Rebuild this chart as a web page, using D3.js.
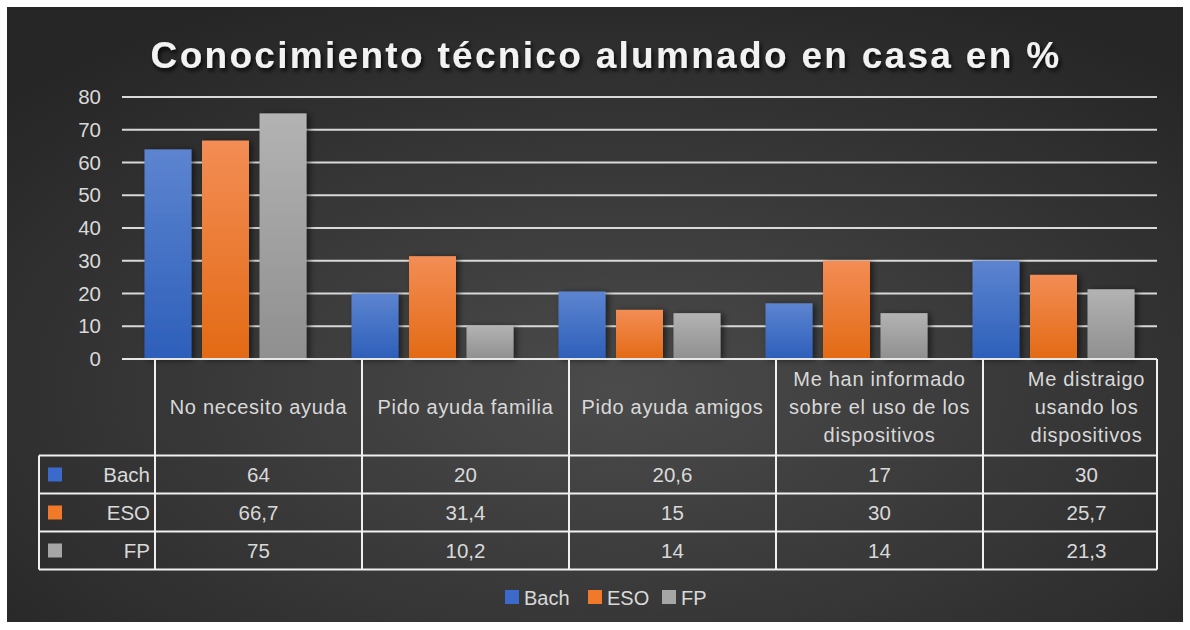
<!DOCTYPE html>
<html>
<head>
<meta charset="utf-8">
<script src="https://cdn.jsdelivr.net/npm/d3@7"></script>
<style>
  html, body { margin: 0; padding: 0; background: #ffffff; }
  svg { display: block; font-family: "Liberation Sans", Arial, sans-serif; }
</style>
</head>
<body>
<div id="chart"></div>
<script>
// chart data
const categories = [
  ['No necesito ayuda'],
  ['Pido ayuda familia'],
  ['Pido ayuda amigos'],
  ['Me han informado', 'sobre el uso de los', 'dispositivos'],
  ['Me distraigo', 'usando los', 'dispositivos']
]
const seriesNames = ['Bach', 'ESO', 'FP']
const bachValues = [64, 20, 20.6, 17, 30]
const esoValues = [66.7, 31.4, 15, 30, 25.7]
const fpValues = [75, 10.2, 14, 14, 21.3]
const yTicks = [0, 10, 20, 30, 40, 50, 60, 70, 80]

const seriesValues = [bachValues, esoValues, fpValues]
const seriesColors = [
  {top: '#5d84d0', bottom: '#2d5fba', key: '#3b6acb'},
  {top: '#f38d55', bottom: '#e36a15', key: '#f07a2a'},
  {top: '#b3b3b3', bottom: '#8f8f8f', key: '#a6a6a6'}
]
const fmt = v => String(v).replace('.', ',')

const width = 1190, height = 630
const svg = d3.select('#chart').append('svg')
  .attr('width', width)
  .attr('height', height)

const defs = svg.append('defs')

// # Background gradient.
const bg = defs.append('radialGradient')
  .attr('id', 'bg')
  .attr('cx', '52%').attr('cy', '62%').attr('r', '70%')
bg.append('stop').attr('offset', '0%').attr('stop-color', '#4b4b4b')
bg.append('stop').attr('offset', '100%').attr('stop-color', '#262626')

seriesColors.forEach((c, i) => {
  const g = defs.append('linearGradient')
    .attr('id', 'bar' + i)
    .attr('x1', 0).attr('y1', 0).attr('x2', 0).attr('y2', 1)
  g.append('stop').attr('offset', '0%').attr('stop-color', c.top)
  g.append('stop').attr('offset', '100%').attr('stop-color', c.bottom)
})

const shadow = defs.append('filter').attr('id', 'shadow')
  .attr('x', '-30%').attr('y', '-30%').attr('width', '160%').attr('height', '160%')
shadow.append('feDropShadow')
  .attr('dx', 3).attr('dy', 1).attr('stdDeviation', 3)
  .attr('flood-color', '#000').attr('flood-opacity', 0.55)

const titleShadow = defs.append('filter').attr('id', 'tshadow')
  .attr('x', '-10%').attr('y', '-30%').attr('width', '120%').attr('height', '160%')
titleShadow.append('feDropShadow')
  .attr('dx', 2).attr('dy', 3).attr('stdDeviation', 2)
  .attr('flood-color', '#000').attr('flood-opacity', 0.8)

svg.append('rect')
  .attr('x', 7).attr('y', 7)
  .attr('width', 1176).attr('height', 615)
  .attr('fill', 'url(#bg)')

// # Title
svg.append('text')
  .attr('x', 606).attr('y', 68)
  .attr('text-anchor', 'middle')
  .attr('font-size', 37)
  .attr('font-weight', 'bold')
  .attr('letter-spacing', 2.3)
  .attr('fill', '#f2f2f2')
  .attr('filter', 'url(#tshadow)')
  .text('Conocimiento técnico alumnado en casa en %')

// # Scales
const plotLeft = 122, plotRight = 1157
const y = d3.scaleLinear().domain([0, 80]).range([359, 97])
const x0 = d3.scaleBand().domain(d3.range(categories.length)).range([plotLeft, plotRight])
const x1 = d3.scaleBand().domain(d3.range(seriesNames.length))
  .range([22.5, x0.bandwidth() - 22.5]).paddingInner(0.183)

// # Gridlines
svg.append('g')
  .selectAll('line')
  .data(yTicks.filter(t => t > 0))
  .enter().append('line')
  .attr('x1', plotLeft).attr('x2', plotRight)
  .attr('y1', d => y(d)).attr('y2', d => y(d))
  .attr('stroke', '#d9d9d9')
  .attr('stroke-width', 2)

// # Y axis labels
const yAxis = d3.axisLeft(y).tickValues(yTicks).tickSize(0).tickPadding(0)
const yg = svg.append('g')
  .attr('transform', 'translate(101,0)')
  .call(yAxis)
yg.select('.domain').remove()
yg.selectAll('text')
  .attr('font-size', 20.5)
  .attr('font-family', '"Liberation Sans", Arial, sans-serif')
  .attr('fill', '#d9d9d9')

// # Bars
const groups = svg.append('g')
  .selectAll('g')
  .data(categories.map((c, i) => i))
  .enter().append('g')
  .attr('transform', i => 'translate(' + x0(i) + ',0)')

groups.selectAll('rect')
  .data(i => seriesValues.map((vals, s) => ({s: s, v: vals[i]})))
  .enter().append('rect')
  .attr('x', d => x1(d.s))
  .attr('width', x1.bandwidth())
  .attr('y', d => y(d.v))
  .attr('height', d => y(0) - y(d.v))
  .attr('fill', d => 'url(#bar' + d.s + ')')
  .attr('filter', 'url(#shadow)')

// # Axis line
svg.append('line')
  .attr('x1', plotLeft).attr('x2', plotRight)
  .attr('y1', y(0)).attr('y2', y(0))
  .attr('stroke', '#e6e6e6').attr('stroke-width', 2)

// # Data table (shifted and clipped on the right, as in the original)
const tx = d3.scaleBand().domain(d3.range(categories.length)).range([155, 155 + 207 * 5])
const tableRight = 1157
const headerTop = 359, headerBottom = 455.5
const rowH = 38
const rowTop = s => headerBottom + s * rowH
const tableBottom = rowTop(seriesNames.length)
const lineColor = '#f0f0f0'
const table = svg.append('g')

// vertical lines
const vlines = d3.range(categories.length).map(i => tx(i)).concat([tableRight])
table.selectAll('line.v')
  .data(vlines)
  .enter().append('line')
  .attr('class', 'v')
  .attr('x1', d => d).attr('x2', d => d)
  .attr('y1', headerTop).attr('y2', tableBottom)
  .attr('stroke', lineColor).attr('stroke-width', 2)

table.append('line')
  .attr('x1', 39).attr('x2', 39)
  .attr('y1', headerBottom).attr('y2', tableBottom)
  .attr('stroke', lineColor).attr('stroke-width', 2)

// horizontal lines
table.selectAll('line.h')
  .data(d3.range(seriesNames.length + 1))
  .enter().append('line')
  .attr('class', 'h')
  .attr('x1', 39).attr('x2', tableRight)
  .attr('y1', s => rowTop(s)).attr('y2', s => rowTop(s))
  .attr('stroke', lineColor).attr('stroke-width', 2)

// header labels
const lineH = 28
categories.forEach((lines, i) => {
  const cx = tx(i) + tx.bandwidth() / 2
  const cy = (headerTop + headerBottom) / 2
  const t = table.append('text')
    .attr('text-anchor', 'middle')
    .attr('font-size', 20)
    .attr('letter-spacing', 0.7)
    .attr('fill', '#d9d9d9')
  lines.forEach((l, k) => {
    t.append('tspan')
      .attr('x', cx)
      .attr('y', cy + (k - (lines.length - 1) / 2) * lineH + 7)
      .text(l)
  })
})

// rows
seriesNames.forEach((name, s) => {
  const cy = rowTop(s) + rowH / 2 + 7
  table.append('rect')
    .attr('x', 48).attr('y', rowTop(s) + rowH / 2 - 7)
    .attr('width', 14).attr('height', 14)
    .attr('fill', seriesColors[s].key)
  table.append('text')
    .attr('x', 150).attr('y', cy)
    .attr('text-anchor', 'end')
    .attr('font-size', 20.5)
    .attr('fill', '#d9d9d9')
    .text(name)
  seriesValues[s].forEach((v, i) => {
    const cx = tx(i) + tx.bandwidth() / 2
    table.append('text')
      .attr('x', cx).attr('y', cy)
      .attr('text-anchor', 'middle')
      .attr('font-size', 20.5)
      .attr('fill', '#d9d9d9')
      .text(fmt(v))
  })
})

// # Legend
const legendX = [505, 588, 662]
const legend = svg.append('g')
seriesNames.forEach((name, s) => {
  const lx = legendX[s]
  legend.append('rect')
    .attr('x', lx).attr('y', 590)
    .attr('width', 14).attr('height', 14)
    .attr('fill', seriesColors[s].key)
  legend.append('text')
    .attr('x', lx + 19).attr('y', 604.5)
    .attr('font-size', 20)
    .attr('fill', '#d9d9d9')
    .text(name)
})
</script>
</body>
</html>
